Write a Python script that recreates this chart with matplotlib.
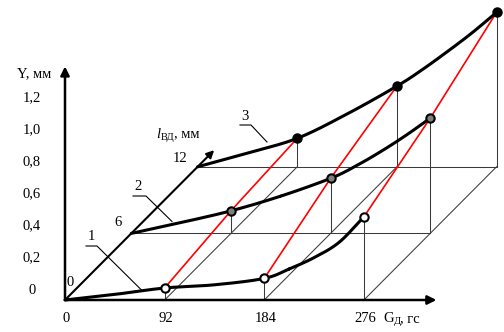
import numpy as np
import matplotlib
matplotlib.use("Agg")
import matplotlib.pyplot as plt

g_vals = [0, 46, 92, 138, 184, 207, 230, 253, 276]
# Y (mm) for each depth l_VD (mm)
depths = [0, 6, 12]
y_curve1 = [0, 0.035, 0.075, 0.095, 0.135, 0.194, 0.265, 0.36, 0.52]   # l = 0
y_curve2 = [0, 0.068, 0.141, 0.233, 0.344, 0.42, 0.51, 0.61, 0.72]     # l = 6
y_curve3 = [0, 0.086, 0.178, 0.33, 0.504, 0.605, 0.717, 0.835, 0.965]  # l = 12
marker_g = [92, 184, 276]
x_ticks = [0, 92, 184, 276]
y_ticks = [0, 0.2, 0.4, 0.6, 0.8, 1.0, 1.2]
y_tick_labels = ["0", "0,2", "0,4", "0,6", "0,8", "1,0", "1,2"]

# oblique projection onto the image (pixels)
X0, Y0 = 65, 300
KG, KY, KZX, KZY = 1.083, 160, 11.05, 11.1


def proj(g, y, z):
    g = np.asarray(g, float); y = np.asarray(y, float)
    return X0 + g * KG + z * KZX, Y0 - y * KY - z * KZY


def smooth(px, py, n=24):
    # Catmull-Rom through the read points, just for drawing
    p = np.column_stack([px, py])
    p = np.vstack([2 * p[0] - p[1], p, 2 * p[-1] - p[-2]])
    out = []
    t = np.linspace(0, 1, n)[:, None]
    for i in range(1, len(p) - 2):
        p0, p1, p2, p3 = p[i - 1], p[i], p[i + 1], p[i + 2]
        seg = 0.5 * ((2 * p1) + (-p0 + p2) * t + (2 * p0 - 5 * p1 + 4 * p2 - p3) * t ** 2
                     + (-p0 + 3 * p1 - 3 * p2 + p3) * t ** 3)
        out.append(seg)
    out = np.vstack(out)
    return out[:, 0], out[:, 1]


plt.rcParams["font.family"] = ["Liberation Serif", "DejaVu Serif"]
fs = 10.5
fig = plt.figure(figsize=(5.04, 3.32), dpi=100)
ax = fig.add_axes([0, 0, 1, 1])
ax.set_xlim(0, 504)
ax.set_ylim(332, 0)
ax.axis("off")

thin = dict(color="#3a3a3a", lw=0.75, zorder=1)
curves = [y_curve1, y_curve2, y_curve3]
idx = [g_vals.index(g) for g in marker_g]

# thin construction lines: plane edges, diagonals, drop lines
for z in depths[1:]:
    xs, ys = proj([0, 276], [0, 0], z)
    ax.plot(xs, ys, **thin)
for g in marker_g:
    xs, ys = proj([g, g], [0, 0], 0)
    x1, y1 = proj(g, 0, 12)
    ax.plot([xs[0], x1], [ys[0], y1], **thin)
for yc, z in zip(curves, depths):
    for i in idx:
        xa, ya = proj(g_vals[i], yc[i], z)
        xb, yb = proj(g_vals[i], 0, z)
        ax.plot([xa, xb], [ya, yb], **thin)

# red lines linking equal G across depths
for i in idx:
    pts = [proj(g_vals[i], yc[i], z) for yc, z in zip(curves, depths)]
    ax.plot([p[0] for p in pts], [p[1] for p in pts], color="red", lw=1.2, zorder=2)

# axes
arr = dict(arrowstyle="-|>", lw=1.8, color="black", mutation_scale=13, shrinkA=0, shrinkB=0)
ax.annotate("", xy=proj(343, 0, 0), xytext=proj(0, 0, 0), arrowprops=arr, zorder=3)
ax.annotate("", xy=proj(0, 1.46, 0), xytext=proj(0, 0, 0), arrowprops=arr, zorder=3)
arr2 = dict(arr, lw=1.5, mutation_scale=11)
ax.annotate("", xy=proj(0, 0, 13.5), xytext=proj(0, 0, 0), arrowprops=arr2, zorder=3)

# main curves
for yc, z in zip(curves, depths):
    px, py = proj(g_vals, yc, z)
    sx, sy = smooth(px, py)
    ax.plot(sx, sy, color="black", lw=2.2, zorder=4, solid_capstyle="round")

# markers
faces = ["white", "#808080", "black"]
for yc, z, fc in zip(curves, depths, faces):
    px, py = proj([g_vals[i] for i in idx], [yc[i] for i in idx], z)
    ax.plot(px, py, "o", ms=6, mfc=fc, mec="black", mew=1.5, zorder=5)

# tick labels
for v, lab in zip(y_ticks, y_tick_labels):
    ax.text(32, Y0 - v * KY - 10, lab, fontsize=fs, ha="center", va="center")
for g in x_ticks:
    x, _ = proj(g, 0, 0)
    ax.text(x + 1, 319, str(g), fontsize=fs, ha="center", va="center")
ax.text(34, 74, "Y, мм", fontsize=fs, ha="center", va="center")
ax.text(383, 319, "G", fontsize=fs, ha="left", va="center")
ax.text(393.5, 322, "Д", fontsize=fs * 0.72, ha="left", va="center")
ax.text(400, 319, ", гс", fontsize=fs, ha="left", va="center")

ax.text(70, 283, "0", fontsize=fs, ha="center", va="center")
ax.text(118, 223, "6", fontsize=fs, ha="center", va="center")
ax.text(180, 159, "12", fontsize=fs, ha="center", va="center")
ax.text(156, 134, "l", fontsize=fs, style="italic", ha="left", va="center")
ax.text(160.5, 137, "ВД", fontsize=fs * 0.72, ha="left", va="center")
ax.text(174, 134, ", мм", fontsize=fs, ha="left", va="center")

# curve number leaders
leaders = [("1", (91, 237), [(86, 246), (97, 246), (143, 291.5)]),
           ("2", (138, 186), [(133, 196), (146, 196), (172, 221.5)]),
           ("3", (245, 116), [(240, 125), (251, 125), (267, 142)])]
for lab, (tx, ty), pts in leaders:
    ax.text(tx, ty, lab, fontsize=fs, ha="center", va="center")
    ax.plot([p[0] for p in pts], [p[1] for p in pts], color="black", lw=0.8, zorder=3)

fig.savefig("out.png", dpi=100)
